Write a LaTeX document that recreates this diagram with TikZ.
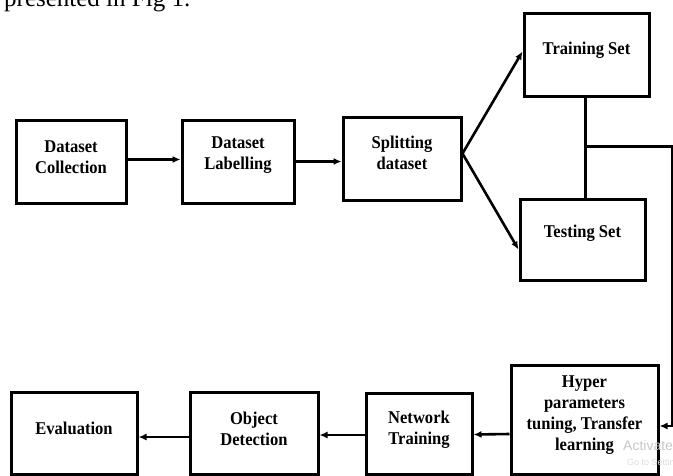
\documentclass[tikz,border=0pt]{standalone}
\usepackage{fontspec}
\setmainfont{Liberation Serif}
\newfontfamily\boxfont[FakeStretch=0.92]{Liberation Serif}
\newfontfamily\wmfont{Liberation Sans}
\usetikzlibrary{arrows.meta,calc}
\begin{document}
\begin{tikzpicture}[x=1pt,y=-1pt,
  box/.style={draw, line width=3pt, inner sep=0pt},
  lbl/.style={font=\boxfont\bfseries\fontsize{18}{21}\selectfont, align=center, inner sep=0pt},
  arr/.style={line width=2.6pt, -{Latex[length=8pt,width=7pt]}},
  link/.style={line width=3pt}]
\useasboundingbox (0,0) rectangle (673,475);
\begin{scope}
\clip (0,0) rectangle (673,475);
\node[anchor=base west, inner sep=0pt, font=\fontsize{25}{25}\selectfont] (cap) at (4,6) {presented in Fig 1.};
% boxes
\node[box, minimum width=110pt, minimum height=83pt] (dc) at (71,161.5) {};
\node[box, minimum width=112pt, minimum height=83pt] (dl) at (238,161.5) {};
\node[box, minimum width=118pt, minimum height=83pt] (sd) at (402,158.5) {};
\node[box, minimum width=125pt, minimum height=83pt] (tr) at (586.5,54.5) {};
\node[box, minimum width=125pt, minimum height=81pt] (te) at (582.5,239.5) {};
\node[box, minimum width=147pt, minimum height=109pt] (hy) at (584.5,419.5) {};
\node[box, minimum width=106pt, minimum height=81pt] (nt) at (419,433.5) {};
\node[box, minimum width=128pt, minimum height=82pt] (od) at (254,433) {};
\node[box, minimum width=126pt, minimum height=82pt] (ev) at (74,433) {};
% labels
\node[lbl] (tdc) at ($(dc.center)+(0,-4)$) {Dataset\\Collection};
\node[lbl] (tdl) at ($(dl.center)+(0,-6)$) {Dataset\\Labelling};
\node[lbl] (tsd) at ($(sd.center)+(0,-6)$) {Splitting\\dataset};
\node[lbl] (ttr) at ($(tr.center)+(0,-4)$) {Training Set};
\node[lbl] (tte) at ($(te.center)+(0,-6)$) {Testing Set};
\node[lbl] (thy) at ($(hy.center)+(0,-4)$) {Hyper\\parameters\\tuning, Transfer\\learning};
\node[lbl] (tnt) at ($(nt.center)+(0,-4)$) {Network\\Training};
\node[lbl] (tod) at ($(od.center)+(0,-4)$) {Object\\Detection};
\node[lbl] (tev) at ($(ev.center)+(0,-5)$) {Evaluation};
% watermark
\node[anchor=base west, inner sep=0pt, text=black!22, font=\wmfont\fontsize{14}{14}\selectfont] (wm1) at (623,450) {Activate};
\node[anchor=base west, inner sep=0pt, text=black!14, font=\wmfont\fontsize{9}{9}\selectfont] (wm2) at (627,465) {Go to Settings};
% connectors
\draw[arr] ($(dc.east)+(0,-2)$) -- ($(dl.west)+(0,-2)$);
\draw[arr] (dl.east) -- (dl.east -| sd.west);
\coordinate (sp) at ($(sd.east)+(0,-5)$);
\draw[arr] (sp) -- ($(tr.west)+(0,-3)$);
\draw[arr] (sp) -- ($(te.west)+(0,10)$);
\coordinate (j1) at ($(tr.south)+(-1.5,0)$);
\coordinate (j) at (585,146);
\draw[link] (j1) -- (j1 |- te.north);
\coordinate (c1) at (672,146);
\coordinate (c2) at (672,426);
\draw[link] (j) -- ($(c1)+(0.75,0)$);
\draw[line width=1.5pt] (c1) -- (c2);
\draw[arr] ($(c2)+(0.75,0)$) -- (c2 -| hy.east);
\draw[arr] ($(hy.west)+(0,14.5)$) -- ($(nt.east)+(0,1)$);
\draw[arr] ($(nt.west)+(0,1.5)$) -- ($(od.east)+(0,2)$);
\draw[arr] ($(od.west)+(0,4)$) -- ($(ev.east)+(0,4)$);
\end{scope}
\end{tikzpicture}
\end{document}
